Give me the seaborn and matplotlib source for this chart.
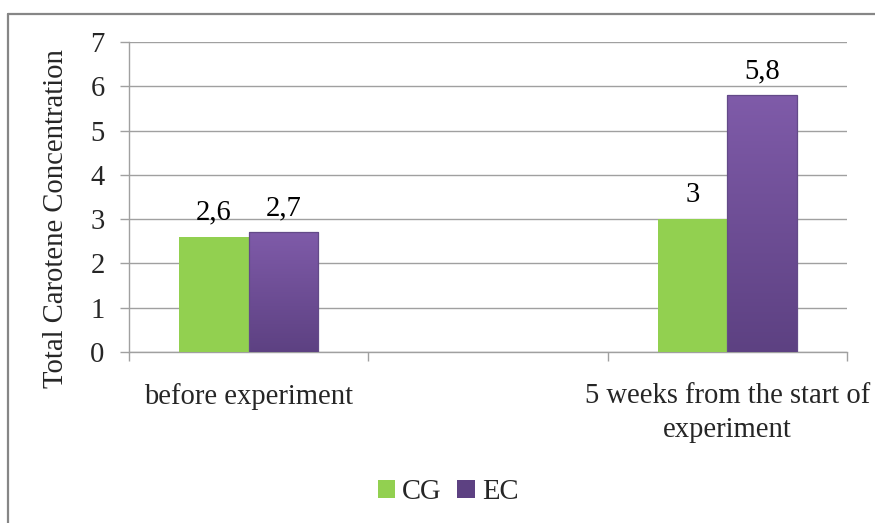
import numpy as np
import pandas as pd
import matplotlib
matplotlib.use("Agg")
import matplotlib.pyplot as plt
from matplotlib.colors import LinearSegmentedColormap
from matplotlib.lines import Line2D
from matplotlib.patches import Patch
import seaborn as sns

# Data
periods = ["before experiment", "", "5 weeks from the start of\nexperiment"]
groups = ["CG", "EC"]
cg_values = [2.6, None, 3.0]
ec_values = [2.7, None, 5.8]
y_ticks = [0, 1, 2, 3, 4, 5, 6, 7]

green = "#92d050"
purple_top = "#7f5ba9"
purple_bottom = "#5d4182"
grid_gray = "#a0a0a0"

rows = []
for p, cg, ec in zip(periods, cg_values, ec_values):
    if cg is not None:
        rows.append({"period": p, "group": "CG", "value": cg})
    if ec is not None:
        rows.append({"period": p, "group": "EC", "value": ec})
df = pd.DataFrame(rows)

sns.set_theme(style="white")
plt.rcParams["font.family"] = ["Liberation Serif", "DejaVu Serif"]
FS = 20.6

fig = plt.figure(figsize=(8.75, 5.23), dpi=100)
ax = fig.add_axes([129 / 875, 1 - 352 / 523, (847 - 129) / 875, (352 - 42) / 523])

sns.barplot(data=df, x="period", y="value", hue="group", order=periods,
            hue_order=groups, palette={"CG": green, "EC": purple_top},
            width=0.58, saturation=1, legend=False, ax=ax, zorder=3)

ax.set_xlim(-0.5, 2.5)
ax.set_ylim(0, 7)

# Gradient fill for the EC bars
cmap_ec = LinearSegmentedColormap.from_list("ec", [purple_bottom, purple_top])
grad = np.linspace(0, 1, 256).reshape(-1, 1)
cg_cont, ec_cont = ax.containers[0], ax.containers[1]
for bar in cg_cont:
    bar.set_edgecolor("none")
for bar in ec_cont:
    x0, y0 = bar.get_x(), bar.get_y()
    w, h = bar.get_width(), bar.get_height()
    im = ax.imshow(grad, extent=[x0, x0 + w, y0, y0 + h], origin="lower",
                   cmap=cmap_ec, aspect="auto", zorder=3.5)
    im.set_clip_path(bar)
    bar.set_edgecolor("#634a88")
    bar.set_linewidth(0.9)
    bar.set_zorder(3.6)
    bar.set_facecolor("none")
ax.set_xlim(-0.5, 2.5)
ax.set_ylim(0, 7)
ax.set_aspect("auto")

# Value labels with decimal comma
def fmt(v):
    return f"{v:g}".replace(".", ",")

ax.bar_label(cg_cont, labels=[fmt(b.get_height()) for b in cg_cont],
             padding=8, fontsize=FS, color="black")
ax.bar_label(ec_cont, labels=[fmt(b.get_height()) for b in ec_cont],
             padding=8, fontsize=FS, color="black")

# Axes styling
ax.set_yticks(y_ticks)
ax.set_yticklabels([str(t) for t in y_ticks], fontsize=FS)
ax.yaxis.grid(True, color=grid_gray, linewidth=1.0, zorder=0)
ax.set_axisbelow(True)
for s in ["top", "right"]:
    ax.spines[s].set_visible(False)
for s in ["left", "bottom"]:
    ax.spines[s].set_color(grid_gray)
    ax.spines[s].set_linewidth(1.0)
ax.tick_params(axis="y", which="major", direction="out", length=6.5,
               width=1.0, color=grid_gray, pad=11, left=True)

ax.set_xticks([-0.5, 0.5, 1.5, 2.5])
ax.set_xticklabels([])
ax.set_xticks([0, 1, 2], minor=True)
ax.set_xticklabels(periods, minor=True, fontsize=FS, linespacing=1.4)
ax.tick_params(axis="x", which="major", direction="out", length=6.5,
               width=1.0, color=grid_gray, bottom=True)
ax.tick_params(axis="x", which="minor", length=0, pad=22)

ax.set_xlabel("")
ax.set_ylabel("Total Carotene Concentration", fontsize=FS)
ax.yaxis.set_label_coords(-0.084, 0.432)

# Legend
handles = [Patch(facecolor=green, edgecolor="none", label="CG"),
           Patch(facecolor=purple_bottom, edgecolor="none", label="EC")]
fig.legend(handles=handles, loc="center", bbox_to_anchor=(448 / 875, 1 - 492 / 523),
           ncol=2, frameon=False, fontsize=FS, handlelength=0.6, handleheight=0.6,
           handletextpad=0.25, columnspacing=0.55)

# Outer chart border
border = "#868686"
fig.add_artist(Line2D([8 / 875, 1.0], [1 - 14 / 523, 1 - 14 / 523],
                      color=border, linewidth=1.6, transform=fig.transFigure))
fig.add_artist(Line2D([8 / 875, 8 / 875], [0.0, 1 - 14 / 523],
                      color=border, linewidth=1.6, transform=fig.transFigure))

fig.savefig("out.png", dpi=100, facecolor="white")
